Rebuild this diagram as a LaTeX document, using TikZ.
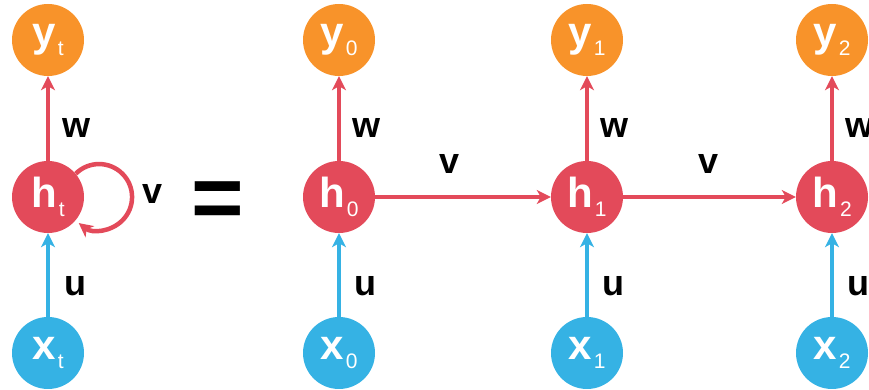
\documentclass[tikz,border=0pt]{standalone}
\usepackage{fontspec}
\setmainfont{Liberation Sans}
\usetikzlibrary{arrows.meta}
\definecolor{cred}{RGB}{227,74,90}
\definecolor{corange}{RGB}{248,147,42}
\definecolor{cblue}{RGB}{53,178,228}
\newcommand{\nodelbl}[2]{{\fontsize{42}{42}\selectfont\bfseries #1}\kern2pt\raisebox{-9pt}{\fontsize{21}{21}\selectfont #2}}
\tikzset{
  unit/.style={circle,minimum size=72pt,inner sep=0pt,text=white},
  hnode/.style={unit,fill=cred},
  ynode/.style={unit,fill=corange},
  xnode/.style={unit,fill=cblue},
  arr/.style={line width=4.5pt,-{Stealth[length=14pt,width=14pt,inset=4pt]}},
  redarr/.style={arr,draw=cred},
  bluearr/.style={arr,draw=cblue},
  wlabel/.style={inner sep=0pt,font=\fontsize{36}{36}\selectfont\bfseries}
}
\begin{document}
\begin{tikzpicture}[x=1pt,y=1pt]
\useasboundingbox (0,0) rectangle (869,390);
% left folded
\node[ynode] (yt) at (48,350) {\nodelbl{y}{t}};
\node[hnode] (ht) at (48,193) {\nodelbl{h}{t}};
\node[xnode] (xt) at (48,37) {\nodelbl{x}{t}};
\draw[redarr] (ht) -- (yt);
\draw[bluearr] (xt) -- (ht);
\draw[redarr] (ht.40) arc[start angle=135,end angle=-128,radius=33];
\node[wlabel] (wt) at (77,262) {w};
\node[wlabel] (ut) at (75,104) {u};
\node[wlabel] (vt) at (153,196) {v};
\node[inner sep=0pt,font=\fontsize{90}{90}\selectfont\bfseries] (eq) at (217.5,185) {=};
% unrolled
\foreach \i/\x in {0/339,1/587,2/832}{
  \node[ynode] (y\i) at (\x,350) {\nodelbl{y}{\i}};
  \node[hnode] (h\i) at (\x,193) {\nodelbl{h}{\i}};
  \node[xnode] (x\i) at (\x,37) {\nodelbl{x}{\i}};
  \draw[redarr] (h\i) -- (y\i);
  \draw[bluearr] (x\i) -- (h\i);
  \node[wlabel] (w\i) at (\x+27,262) {w};
  \node[wlabel] (u\i) at (\x+26,104) {u};
}
\draw[redarr] (h0) -- (h1);
\draw[redarr] (h1) -- (h2);
\node[wlabel] (v01) at (450,226) {v};
\node[wlabel] (v12) at (708,226) {v};
\end{tikzpicture}
\end{document}
